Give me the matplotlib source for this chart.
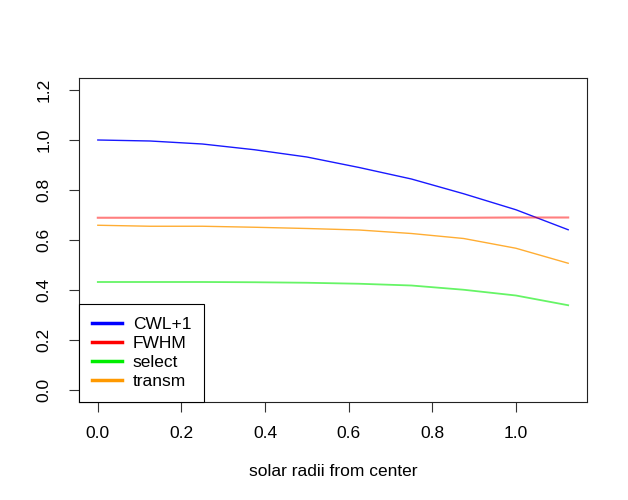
import matplotlib
matplotlib.use("Agg")
import matplotlib.pyplot as plt

plt.rcParams['font.family'] = ['Liberation Sans', 'DejaVu Sans']

radii = [0.0, 0.125, 0.25, 0.375, 0.5, 0.625, 0.75, 0.875, 1.0, 1.125]
cwl = [1.0, 0.996, 0.984, 0.961, 0.932, 0.890, 0.844, 0.785, 0.721, 0.641]
fwhm = [0.689, 0.689, 0.689, 0.689, 0.690, 0.690, 0.689, 0.689, 0.690, 0.690]
select = [0.432, 0.432, 0.432, 0.431, 0.429, 0.425, 0.418, 0.401, 0.378, 0.339]
transm = [0.659, 0.655, 0.655, 0.651, 0.646, 0.640, 0.626, 0.606, 0.567, 0.507]

labels = ["CWL+1", "FWHM", "select", "transm"]
colors = ["#0000ff", "#ff0000", "#00ee00", "#ff9900"]
series = [cwl, fwhm, select, transm]
alphas = [0.9, 0.5, 0.6, 0.8]
widths = [1.0, 1.5, 1.3, 1.0]

fs = 12.5
fig = plt.figure(figsize=(6.28, 5.0), dpi=100)
ax = fig.add_axes([79/628, 98/500, 508/628, 324/500])

for y, c, a, w in zip(series, colors, alphas, widths):
    ax.plot(radii, y, color=c, alpha=a, lw=w)

ax.set_xlim(-0.045, 1.17)
ax.set_ylim(-0.048, 1.248)
ax.set_xticks([0.0, 0.2, 0.4, 0.6, 0.8, 1.0])
ax.set_xticklabels(["0.0", "0.2", "0.4", "0.6", "0.8", "1.0"])
ax.set_yticks([0.0, 0.2, 0.4, 0.6, 0.8, 1.0, 1.2])
ax.set_yticklabels(["0.0", "0.2", "0.4", "0.6", "0.8", "1.0", "1.2"], rotation=90, va='center')
ax.tick_params(axis='both', direction='out', length=7, width=0.8, labelsize=fs, color='#333333')
ax.tick_params(axis='x', pad=10)
ax.tick_params(axis='y', pad=13)
for s in ax.spines.values():
    s.set_color('#222222')
    s.set_linewidth(0.8)

ax.set_xlabel("solar radii from center", fontsize=fs, labelpad=17)

from matplotlib.lines import Line2D
handles = [Line2D([0], [0], color=c, lw=2.5) for c in colors]
leg = ax.legend(handles, labels, loc='lower left', bbox_to_anchor=(0, 0), borderaxespad=0,
                fancybox=False, framealpha=1, edgecolor='black', fontsize=fs,
                handlelength=1.75, labelspacing=0.22, borderpad=0.75, handletextpad=0.6)
leg.get_frame().set_linewidth(0.8)

fig.savefig("out.png", dpi=100)
